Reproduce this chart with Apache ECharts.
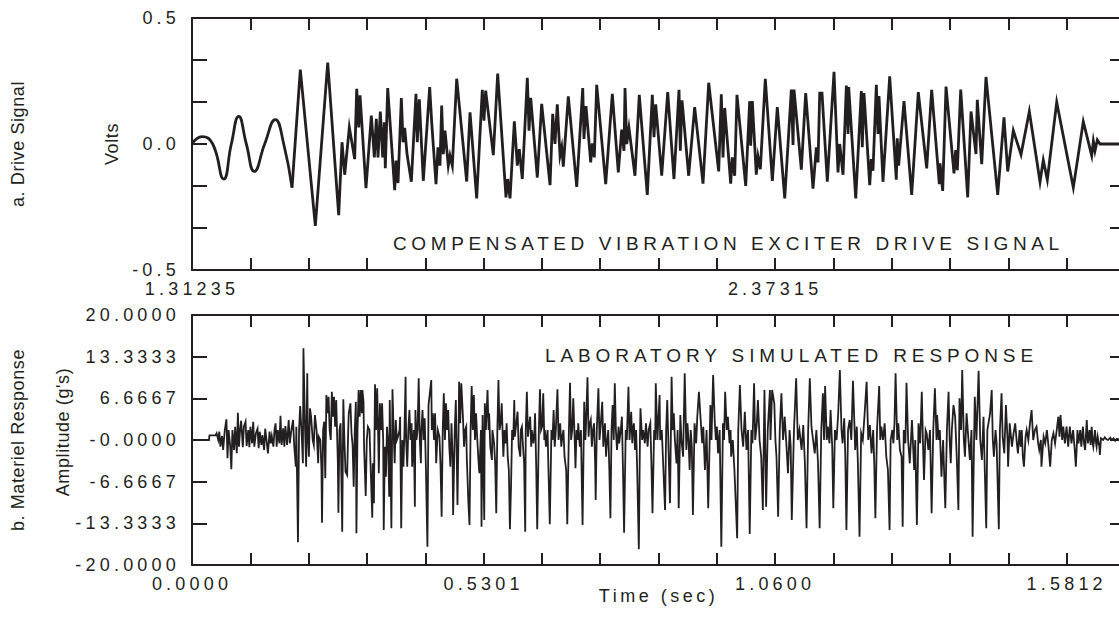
<!DOCTYPE html>
<html>
<head>
<meta charset="utf-8">
<title>Compensated drive signal and simulated response</title>
<script src="https://cdn.jsdelivr.net/npm/echarts@6.0.0/dist/echarts.min.js"></script>
<style>
  html, body { margin: 0; padding: 0; background: #fff; }
  #chart { width: 1119px; height: 619px; }
  #chart text { letter-spacing: 4.2px; }
</style>
</head>
<body>
<div id="chart"></div>
<script>
const ink = '#231f20'
const font = '"Liberation Sans", Arial, sans-serif'

// a. drive signal: time (s) and volts
const driveTime = [
  1.31235, 1.3307, 1.3503, 1.3704, 1.3844, 1.3979, 1.4119, 1.4265, 1.4455, 1.4650, 1.4804, 1.4956,
  1.5108, 1.5383, 1.5610, 1.5811, 1.5872, 1.5921, 1.6006, 1.6104, 1.6141, 1.6178, 1.6202, 1.6311,
  1.6409, 1.6464, 1.6500, 1.6531, 1.6574, 1.6617, 1.6647, 1.6665, 1.6709, 1.6837, 1.6861, 1.6898,
  1.6959, 1.6990, 1.7020, 1.7063, 1.7142, 1.7227, 1.7251, 1.7288, 1.7361, 1.7478, 1.7515, 1.7594,
  1.7630, 1.7667, 1.7698, 1.7727, 1.7759, 1.7819, 1.7850, 1.7893, 1.7973, 1.8156, 1.8217, 1.8339,
  1.8442, 1.8473, 1.8504, 1.8644, 1.8724, 1.8876, 1.8907, 1.8950, 1.9029, 1.9084, 1.9120, 1.9175,
  1.9267, 1.9298, 1.9329, 1.9450, 1.9530, 1.9683, 1.9732, 1.9774, 1.9816, 1.9866, 1.9897, 1.9926,
  2.0018, 2.0172, 2.0282, 2.0305, 2.0342, 2.0428, 2.0457, 2.0494, 2.0538, 2.0703, 2.0824, 2.0934,
  2.0996, 2.1038, 2.1057, 2.1088, 2.1129, 2.1239, 2.1318, 2.1465, 2.1557, 2.1588, 2.1619, 2.1729,
  2.1839, 2.1954, 2.2046, 2.2070, 2.2101, 2.2223, 2.2333, 2.2486, 2.2590, 2.2773, 2.2821, 2.2852,
  2.2883, 2.2993, 2.3022, 2.3066, 2.3108, 2.3268, 2.3341, 2.3359, 2.3389, 2.3462, 2.3493, 2.3536,
  2.3627, 2.3756, 2.3847, 2.3983, 2.4104, 2.4135, 2.4153, 2.4287, 2.4367, 2.4501, 2.4562, 2.4593,
  2.4624, 2.4666, 2.4763, 2.4886, 2.4959, 2.4990, 2.5051, 2.5112, 2.5143, 2.5155, 2.5284, 2.5386,
  2.5404, 2.5435, 2.5540, 2.5569, 2.5600, 2.5661, 2.5692, 2.5710, 2.5783, 2.5906, 2.6027, 2.6045,
  2.6070, 2.6168, 2.6309, 2.6430, 2.6584, 2.6675, 2.6815, 2.6828, 2.6877, 2.6938, 2.7084, 2.7115,
  2.7145, 2.7207, 2.7335, 2.7396, 2.7487, 2.7511, 2.7592, 2.7670, 2.7885, 2.8000, 2.8068, 2.8171,
  2.8312, 2.8464, 2.8660, 2.8720, 2.8794, 2.8966, 2.9270, 2.9453, 2.9607, 2.9637, 2.9667, 2.9710,
  2.9760, 3.0217
]
const driveVolts = [
  0, 0.029, 0, -0.139, 0, 0.110, 0, -0.109, 0, 0.097, 0, -0.173,
  0.295, -0.325, 0.323, -0.282, 0.007, -0.122, 0.066, -0.060, 0.219, 0.066, 0.193, -0.175,
  0.113, -0.053, 0.100, -0.053, 0.129, -0.053, 0.086, -0.096, 0.222, -0.183, -0.066, -0.155,
  0.182, 0.007, 0.064, -0.040, -0.150, 0.199, 0.007, 0.177, -0.146, 0.226, 0.086, -0.159,
  -0.013, -0.086, 0.153, -0.040, 0.053, -0.086, -0.046, -0.086, 0.259, -0.149, 0.126, -0.216,
  0.215, 0.093, 0.212, -0.044, 0.279, -0.212, -0.139, -0.216, 0.090, -0.086, -0.020, -0.139,
  0.263, 0.053, 0.183, -0.133, 0.159, -0.163, 0.120, 0.000, 0.157, -0.046, -0.013, -0.090,
  0.189, -0.170, 0.222, 0.020, 0.150, -0.073, 0.003, -0.053, 0.235, -0.159, 0.199, -0.113,
  0.057, -0.027, 0.222, 0.000, 0.064, -0.126, 0.195, -0.202, 0.195, 0.027, 0.157, -0.126,
  0.206, -0.139, 0.215, -0.027, 0.173, -0.126, 0.146, -0.157, 0.243, -0.109, 0.197, -0.053,
  0.143, -0.157, -0.053, -0.126, 0.195, -0.166, 0.170, -0.007, 0.170, -0.122, -0.050, -0.100,
  0.259, -0.146, 0.146, -0.216, 0.216, -0.004, 0.216, -0.102, 0.202, -0.177, -0.013, -0.073,
  0.202, 0.202, -0.149, 0.286, -0.113, 0.000, -0.122, 0.232, 0.040, 0.226, -0.216, 0.210,
  -0.013, 0.202, -0.163, -0.060, -0.106, 0.235, 0.040, 0.190, -0.150, 0.268, -0.142, 0.023,
  -0.086, 0.170, -0.202, 0.206, -0.097, 0.215, -0.159, -0.077, -0.186, 0.228, -0.117, -0.024,
  -0.104, 0.216, -0.212, 0.129, -0.040, 0.175, -0.080, 0.266, -0.202, 0.106, -0.109, 0.053,
  -0.042, 0.129, -0.150, -0.064, -0.142, 0.166, -0.173, 0.089, -0.046, 0.011, -0.027, 0.016,
  0.000, 0.000
]
const leadInEnd = 11 // last point of the smooth lead-in sweep

// b. materiel response: time (s) and g's
const respTime = [
  0, 0.031, 0.032, 0.043, 0.045, 0.048, 0.050, 0.052, 0.055, 0.057,
  0.060, 0.063, 0.065, 0.067, 0.070, 0.072, 0.074, 0.077, 0.079, 0.082,
  0.084, 0.086, 0.088, 0.090, 0.093, 0.095, 0.098, 0.100, 0.103, 0.105,
  0.107, 0.110, 0.112, 0.114, 0.117, 0.120, 0.122, 0.124, 0.127, 0.129,
  0.132, 0.134, 0.137, 0.139, 0.142, 0.144, 0.146, 0.149, 0.151, 0.153,
  0.155, 0.157, 0.160, 0.162, 0.164, 0.167, 0.169, 0.171, 0.174, 0.177,
  0.179, 0.182, 0.185, 0.187, 0.190, 0.191, 0.194, 0.196, 0.198, 0.201,
  0.203, 0.204, 0.207, 0.209, 0.211, 0.212, 0.214, 0.216, 0.218, 0.221,
  0.223, 0.225, 0.228, 0.231, 0.232, 0.235, 0.237, 0.238, 0.240, 0.242,
  0.244, 0.246, 0.248, 0.250, 0.252, 0.254, 0.256, 0.258, 0.260, 0.262,
  0.264, 0.267, 0.268, 0.270, 0.272, 0.275, 0.277, 0.279, 0.281, 0.284,
  0.286, 0.287, 0.290, 0.292, 0.294, 0.296, 0.298, 0.300, 0.301, 0.303,
  0.305, 0.307, 0.309, 0.311, 0.312, 0.314, 0.315, 0.318, 0.320, 0.322,
  0.325, 0.326, 0.330, 0.331, 0.333, 0.335, 0.337, 0.339, 0.341, 0.342,
  0.344, 0.346, 0.348, 0.350, 0.351, 0.353, 0.355, 0.357, 0.359, 0.361,
  0.362, 0.365, 0.367, 0.369, 0.371, 0.373, 0.375, 0.377, 0.380, 0.381,
  0.383, 0.385, 0.387, 0.389, 0.391, 0.392, 0.394, 0.396, 0.398, 0.400,
  0.402, 0.403, 0.406, 0.408, 0.409, 0.411, 0.413, 0.415, 0.417, 0.419,
  0.420, 0.422, 0.424, 0.426, 0.428, 0.431, 0.433, 0.438, 0.439, 0.441,
  0.443, 0.445, 0.447, 0.449, 0.450, 0.453, 0.455, 0.457, 0.459, 0.461,
  0.463, 0.465, 0.467, 0.469, 0.471, 0.473, 0.475, 0.477, 0.478, 0.481,
  0.483, 0.486, 0.488, 0.489, 0.491, 0.493, 0.496, 0.498, 0.500, 0.502,
  0.503, 0.506, 0.508, 0.510, 0.512, 0.514, 0.516, 0.518, 0.520, 0.522,
  0.524, 0.526, 0.529, 0.530, 0.532, 0.535, 0.536, 0.538, 0.541, 0.543,
  0.544, 0.546, 0.549, 0.550, 0.553, 0.555, 0.557, 0.559, 0.561, 0.563,
  0.565, 0.567, 0.569, 0.570, 0.572, 0.574, 0.576, 0.578, 0.580, 0.582,
  0.584, 0.586, 0.588, 0.590, 0.591, 0.593, 0.596, 0.598, 0.601, 0.602,
  0.604, 0.606, 0.608, 0.610, 0.611, 0.613, 0.615, 0.616, 0.619, 0.621,
  0.622, 0.625, 0.627, 0.628, 0.630, 0.632, 0.635, 0.637, 0.639, 0.641,
  0.643, 0.645, 0.646, 0.648, 0.651, 0.652, 0.655, 0.658, 0.660, 0.662,
  0.664, 0.666, 0.669, 0.671, 0.674, 0.676, 0.678, 0.680, 0.682, 0.685,
  0.687, 0.690, 0.692, 0.694, 0.696, 0.698, 0.701, 0.702, 0.704, 0.706,
  0.707, 0.710, 0.712, 0.713, 0.715, 0.718, 0.720, 0.721, 0.724, 0.726,
  0.727, 0.730, 0.732, 0.734, 0.736, 0.738, 0.739, 0.741, 0.744, 0.746,
  0.748, 0.751, 0.753, 0.755, 0.756, 0.758, 0.759, 0.762, 0.764, 0.766,
  0.768, 0.770, 0.772, 0.774, 0.776, 0.778, 0.781, 0.782, 0.785, 0.787,
  0.789, 0.791, 0.794, 0.796, 0.799, 0.801, 0.804, 0.806, 0.807, 0.809,
  0.811, 0.813, 0.815, 0.818, 0.820, 0.821, 0.824, 0.826, 0.829, 0.831,
  0.834, 0.836, 0.839, 0.841, 0.843, 0.846, 0.848, 0.849, 0.852, 0.856,
  0.857, 0.860, 0.862, 0.863, 0.866, 0.868, 0.870, 0.875, 0.878, 0.880,
  0.882, 0.884, 0.887, 0.889, 0.891, 0.894, 0.896, 0.899, 0.902, 0.905,
  0.907, 0.909, 0.911, 0.913, 0.915, 0.917, 0.920, 0.923, 0.925, 0.928,
  0.931, 0.934, 0.936, 0.939, 0.942, 0.945, 0.949, 0.951, 0.954, 0.957,
  0.959, 0.961, 0.963, 0.966, 0.969, 0.972, 0.974, 0.976, 0.979, 0.981,
  0.984, 0.986, 0.987, 0.990, 0.993, 0.998, 1.000, 1.003, 1.006, 1.009,
  1.012, 1.015, 1.018, 1.021, 1.024, 1.026, 1.029, 1.031, 1.034, 1.036,
  1.039, 1.042, 1.045, 1.048, 1.051, 1.054, 1.058, 1.059, 1.062, 1.066,
  1.068, 1.070, 1.073, 1.076, 1.079, 1.082, 1.085, 1.088, 1.091, 1.094,
  1.096, 1.098, 1.102, 1.106, 1.109, 1.112, 1.116, 1.119, 1.122, 1.125,
  1.128, 1.131, 1.134, 1.137, 1.140, 1.143, 1.146, 1.149, 1.152, 1.155,
  1.157, 1.159, 1.162, 1.164, 1.167, 1.169, 1.172, 1.174, 1.177, 1.180,
  1.183, 1.186, 1.189, 1.191, 1.194, 1.196, 1.198, 1.201, 1.204, 1.207,
  1.210, 1.213, 1.214, 1.217, 1.219, 1.222, 1.225, 1.228, 1.231, 1.235,
  1.238, 1.241, 1.244, 1.247, 1.249, 1.251, 1.254, 1.258, 1.260, 1.262,
  1.265, 1.268, 1.271, 1.274, 1.277, 1.279, 1.282, 1.284, 1.286, 1.288,
  1.291, 1.293, 1.296, 1.299, 1.301, 1.303, 1.306, 1.308, 1.311, 1.314,
  1.318, 1.322, 1.324, 1.327, 1.330, 1.333, 1.336, 1.338, 1.340, 1.343,
  1.345, 1.348, 1.351, 1.354, 1.357, 1.360, 1.363, 1.364, 1.367, 1.369,
  1.372, 1.375, 1.379, 1.382, 1.385, 1.387, 1.389, 1.391, 1.394, 1.397,
  1.400, 1.403, 1.405, 1.408, 1.410, 1.413, 1.415, 1.418, 1.421, 1.424,
  1.427, 1.429, 1.432, 1.433, 1.436, 1.440, 1.443, 1.446, 1.449, 1.451,
  1.454, 1.456, 1.461, 1.464, 1.466, 1.468, 1.471, 1.473, 1.477, 1.479,
  1.482, 1.484, 1.487, 1.490, 1.493, 1.494, 1.497, 1.501, 1.504, 1.507,
  1.510, 1.512, 1.515, 1.517, 1.519, 1.521, 1.523, 1.526, 1.528, 1.531,
  1.534, 1.537, 1.540, 1.543, 1.546, 1.549, 1.551, 1.554, 1.555, 1.559,
  1.562, 1.565, 1.568, 1.571, 1.574, 1.577, 1.580, 1.583, 1.586, 1.588,
  1.590, 1.593, 1.595, 1.598, 1.601, 1.604, 1.607, 1.610, 1.613, 1.616,
  1.618, 1.621, 1.623, 1.626, 1.628, 1.631, 1.633, 1.635, 1.637, 1.638,
  1.640, 1.643, 1.645, 1.647, 1.649, 1.650, 1.652, 1.653, 1.655, 1.656,
  1.658, 1.661, 1.662, 1.664, 1.668, 1.671, 1.674, 1.677, 1.681, 1.684,
  1.687, 1.690, 1.693, 1.697
]
const respAmp = [
  0, 0, 0.75, 0.75, 1.07, 0, 1.33, -1.07, 0.64, -1.6,
  1.6, 3.31, -2.93, 1.6, -1.07, -4.69, 1.6, -1.6, 2.13, -2.13,
  4.37, -1.07, 1.6, 3.09, -1.17, 2.13, 2.93, -0.96, 1.6, -1.17,
  2.13, -0.53, 2.93, -1.07, 1.07, 1.81, -1.33, 1.33, -0.8, 0.8,
  -1.6, 1.81, -0.53, -2.13, 1.33, -0.53, 0.64, -1.07, 1.6, 2.67,
  -1.07, 1.6, -0.53, 3.89, -0.8, 1.87, -1.07, 2.24, -0.8, 3.2,
  -0.53, 1.6, 3.2, -0.8, -4.27, 2.13, -16.37, 1.6, 5.44, 0.53,
  -3.73, 14.67, 1.6, -4.27, 10.67, 1.07, -2.67, 5.07, 3.73, 0,
  -0.8, 4.0, 1.6, -3.73, 0.53, 0, -4.8, -13.23, 1.6, 2.93,
  -6.13, 7.2, 4.27, 6.93, 1.6, 0, 7.73, 3.73, 6.93, 2.13,
  6.4, -3.73, -11.63, 1.6, 2.67, -14.67, 6.51, 0, -5.07, -5.6,
  1.6, 4.27, 5.87, 1.07, -0.8, -7.47, 1.6, 6.13, -14.93, 1.6,
  8.0, 3.73, 8.0, 4.27, 8.0, 6.13, -1.07, -8.96, 0, 2.13,
  1.6, -1.6, -12.43, -3.73, -10.13, 8.91, 1.6, 8.27, 0, -5.33,
  5.87, 1.6, 5.87, 0, -14.4, -1.07, -5.87, 2.13, -0.53, -9.07,
  6.4, -14.13, 8.11, 1.6, -3.73, 3.2, 0, 0.53, 1.6, 3.73,
  -14.13, 0, -4.27, 1.6, 10.13, 0, -4.27, 1.6, 4.8, 0,
  2.67, -4.27, 1.6, -10.67, 4.8, 0, 1.6, 9.87, 0, -3.73,
  1.6, 4.8, 0, 3.47, -3.73, -17.07, 5.6, 9.6, 1.6, 4.27,
  0, 4.27, -3.73, 0, 1.6, 0.53, -4.27, -12.27, 1.6, 7.47,
  0, 5.87, 1.6, 4.8, -1.07, -4.27, 2.67, -2.67, -12.0, 1.6,
  6.4, -10.4, 1.6, 9.33, 2.67, 9.07, 3.73, -1.07, 1.6, 2.13,
  -2.67, -10.13, -13.6, 1.6, 8.64, 1.6, 7.2, 0, 4.27, 0.53,
  -2.67, -5.33, 1.6, -13.87, 4.0, -12.8, 5.87, 1.6, 8.0, 1.6,
  4.27, -1.07, -3.2, 1.6, -0.53, -3.73, -11.73, 1.6, 9.6, 1.6,
  2.67, 5.87, 0, -2.67, 1.6, -0.53, 2.67, -2.67, -4.8, -14.29,
  -7.47, 1.6, 0, 6.4, 0.53, 2.13, 4.53, -1.07, -2.67, 1.6,
  2.13, -1.07, -3.73, -14.67, 1.6, 7.73, 0.53, 1.6, 3.73, -1.07,
  1.6, -0.53, 1.6, 4.27, -3.73, -14.29, 1.6, 8.11, 1.6, 2.13,
  7.47, 0, 1.6, -1.07, 1.6, -2.67, -13.49, 1.6, 0, 4.8,
  -1.07, 1.6, 8.11, 0, 2.67, -1.07, 0.53, 1.6, -2.67, -4.8,
  -13.49, 1.6, 9.17, 0, 1.6, 6.67, -1.07, -4.53, 1.6, 0,
  2.67, -1.07, 1.6, -3.73, -13.6, 6.13, 0, 1.6, 10.03, 0.53,
  2.13, 3.2, -1.07, 1.6, 2.67, -3.73, -9.6, 1.6, 8.27, 0,
  2.13, 6.13, -1.07, 1.6, 2.67, -2.67, -1.07, 1.6, -4.8, -12.53,
  1.6, 5.6, 0, 9.07, 1.6, -1.6, 2.13, -0.53, 1.6, 3.73,
  -4.8, -14.83, 1.6, 0, 8.53, 0, 4.53, -0.53, 1.6, 2.67,
  -1.6, 1.6, -4.8, -17.49, 0, 5.07, 0, 1.6, -0.53, 2.67,
  -1.07, 1.6, 2.67, -3.73, -11.73, 1.6, 0, 9.07, 0, 7.2,
  0, 1.6, -2.67, -4.8, -11.2, 1.6, 6.4, -10.13, 10.13, 1.6,
  4.27, 0, -3.73, 1.6, -10.93, 4.0, 0, -2.67, 10.67, -1.6,
  2.67, 0, -4.8, 1.6, -1.07, -12.0, 2.67, -0.53, 3.73, 7.73,
  3.47, -0.53, 2.13, -4.8, 1.6, -10.93, 5.6, 0, 10.4, 2.93,
  0, 2.13, -2.13, 1.6, -17.07, 2.67, 0, 7.73, 1.6, 3.73,
  -0.53, 1.6, -2.67, 0, -4.8, -15.73, 1.6, 8.8, 1.6, -1.07,
  4.53, -1.6, 1.6, -15.04, 1.6, -0.53, 9.07, 0, 2.67, 6.4,
  0, -2.67, -11.2, 8.0, -10.67, 1.6, 8.0, 0, 8.0, 5.87,
  0, -2.67, -12.27, 1.6, 7.47, 0, 3.73, -0.53, -5.33, 1.6,
  -1.07, -12.8, 1.6, 9.87, 0, 1.6, -1.6, 2.4, -3.73, -14.13,
  1.6, 9.87, 2.13, 0, -2.13, 1.6, -3.73, -14.13, 1.6, 7.47,
  0, 8.64, 0, 2.13, -0.53, 4.8, -1.07, -10.93, 1.6, 0,
  4.27, 11.2, 1.6, -0.53, 3.47, -2.67, -14.4, 1.6, 3.2, 0,
  9.49, 1.6, -1.6, 2.13, -3.73, -15.47, 1.07, 0, 3.73, 9.33,
  0, 2.4, -2.13, 1.6, -3.73, -12.53, 1.6, 8.64, 0, 2.13,
  0, 2.67, -2.67, -4.8, -14.4, 0, 1.6, -0.53, 2.67, 10.67,
  0, 2.67, -1.6, -2.67, -13.87, 1.6, -0.53, 9.17, 0, -3.73,
  3.2, -4.8, 0, -13.6, 2.67, -0.53, 7.73, 0, -6.4, 1.6,
  1.07, -1.6, 1.6, -11.73, 1.6, 8.27, 0, 4.0, 0, 1.6,
  -5.87, 0, -10.93, 1.6, 7.73, 0, -3.73, 1.6, 5.6, 3.73,
  -2.67, -11.2, 6.67, 1.6, 11.2, 0, -2.67, 4.27, 0.53, -3.2,
  1.6, -15.47, 1.6, 6.93, 0, 11.09, 0, -3.2, 3.73, -3.73,
  -14.13, 1.6, 4.27, 8.0, 0, -2.67, 1.6, -0.53, -14.29, 1.6,
  7.47, 0.53, -2.13, 5.6, 0, -4.27, 2.67, -1.07, 1.07, 2.67,
  -0.53, -2.13, 1.6, -1.07, 1.6, -2.67, -4.27, 0.53, 1.6, 0,
  2.67, 4.8, 0, 1.6, 2.13, -0.53, -1.6, 0, -4.27, 0.53,
  -0.53, 1.6, -1.07, -4.27, 0, 1.07, -0.53, 1.6, 3.73, 0.53,
  4.0, 0, 2.13, -0.53, 2.13, -1.07, 2.13, -0.53, 1.6, -1.6,
  -4.27, 1.6, -0.53, 1.6, -1.07, 2.13, -0.53, -1.6, 1.6, 3.2,
  -0.53, 1.6, -0.8, 2.13, -0.53, -1.07, 0.53, 1.6, -0.53, -1.07,
  0.53, -1.07, -2.4, 0.27, 0, 0.43, 0.11, 0, 0.37, 0,
  0.27, -0.11, 0.21, 0.11
]

// tick labels, one per tick
const driveTimeLabels = ['1.31235', '', '', '', '', '', '', '', '', '', '2.37315', '', '', '', '', '', '']
const respTimeLabels = ['0.0000', '', '', '', '', '0.5301', '', '', '', '', '1.0600', '', '', '', '', '1.5812', '']
const voltLabels = ['-0.5', '', '', '0.0', '', '', '0.5']
const ampLabels = ['-20.0000', '-13.3333', '-6.6667', '-0.0000', '6.6667', '13.3333', '20.0000']

const driveNote = 'COMPENSATED VIBRATION EXCITER DRIVE SIGNAL'
const respNote = 'LABORATORY SIMULATED RESPONSE'

const pairs = (xs, ys) => xs.map((x, i) => [x, ys[i]])
const drive = pairs(driveTime, driveVolts)
const resp = pairs(respTime, respAmp)

const nameStyle = { color: ink, fontFamily: font, fontSize: 18 }

// frame axis: ticks on every side, labels only where given
const frameAxis = (gridIndex, position, labels, showLabels) => {
  const vertical = position === 'left' || position === 'right'
  const half = (labels.length - 1) / 2
  return {
    type: 'value',
    gridIndex,
    position,
    min: vertical ? -half : 0,
    max: vertical ? half : labels.length - 1,
    interval: 1,
    axisLine: { show: true, onZero: false, lineStyle: { color: ink, width: 2 } },
    axisTick: { show: true, inside: true, length: vertical ? 15 : 12, lineStyle: { color: ink, width: 2 } },
    axisLabel: {
      show: showLabels,
      color: ink,
      fontFamily: font,
      fontSize: 18,
      margin: vertical ? 12 : 10,
      formatter: (v) => labels[Math.round(vertical ? v + half : v)] || '',
    },
    splitLine: { show: false },
    nameMoveOverlap: false,
  }
}

const dataXAxis = (gridIndex, min, max) => ({ type: 'value', gridIndex, min, max, show: false })
const dataYAxis = (gridIndex, min, max, name, nameGap) => ({
  type: 'value', gridIndex, min, max, position: 'left',
  axisLine: { show: false }, axisTick: { show: false }, axisLabel: { show: false }, splitLine: { show: false },
  name, nameLocation: 'middle', nameGap, nameTextStyle: nameStyle, nameMoveOverlap: false,
})

const lineStyle = (width) => ({ color: ink, width, join: 'miter', miterLimit: 8 })

const chart = echarts.init(document.getElementById('chart'), null, { renderer: 'svg' })

const option = {
  backgroundColor: '#fff',
  animation: false,
  grid: [
    { left: 192, top: 18, width: 933, height: 252, outerBoundsMode: 'none' },
    { left: 192, top: 315, width: 933, height: 250, outerBoundsMode: 'none' },
  ],
  xAxis: [
    frameAxis(0, 'bottom', driveTimeLabels, true),
    frameAxis(0, 'top', driveTimeLabels, false),
    dataXAxis(0, 1.31235, 3.0217),
    Object.assign(frameAxis(1, 'bottom', respTimeLabels, true), {
      name: 'Time (sec)', nameLocation: 'middle', nameGap: 22, nameTextStyle: nameStyle,
    }),
    frameAxis(1, 'top', respTimeLabels, false),
    dataXAxis(1, 0, 1.708),
  ],
  yAxis: [
    Object.assign(frameAxis(0, 'left', voltLabels, true), {
      name: 'Volts', nameLocation: 'middle', nameGap: 71, nameTextStyle: nameStyle,
    }),
    frameAxis(0, 'right', voltLabels, false),
    dataYAxis(0, -0.5, 0.5, 'a. Drive Signal', 165),
    Object.assign(frameAxis(1, 'left', ampLabels, true), {
      name: "Amplitude (g's)", nameLocation: 'middle', nameGap: 120,
      nameTextStyle: Object.assign({ padding: [0, 0, 0, 16] }, nameStyle),
    }),
    frameAxis(1, 'right', ampLabels, false),
    dataYAxis(1, -20, 20, 'b. Materiel Response', 165),
  ],
  graphic: [
    {
      type: 'text', x: 393, y: 243, silent: true,
      style: { text: driveNote, fill: ink, font: '19px ' + font, align: 'left', verticalAlign: 'middle', textAlign: 'left', textVerticalAlign: 'middle' },
    },
    {
      type: 'text', x: 545, y: 355, silent: true,
      style: { text: respNote, fill: ink, font: '19px ' + font, align: 'left', verticalAlign: 'middle', textAlign: 'left', textVerticalAlign: 'middle' },
    },
  ],
  series: [
    {
      name: 'lead-in', type: 'line', xAxisIndex: 2, yAxisIndex: 2,
      data: drive.slice(0, leadInEnd + 1), smooth: 0.5, showSymbol: false, silent: true,
      lineStyle: lineStyle(2.8),
    },
    {
      name: 'drive', type: 'line', xAxisIndex: 2, yAxisIndex: 2,
      data: drive.slice(leadInEnd), showSymbol: false, silent: true,
      lineStyle: lineStyle(2.8),
    },
    {
      name: 'response', type: 'line', xAxisIndex: 5, yAxisIndex: 5,
      data: resp, showSymbol: false, silent: true,
      lineStyle: lineStyle(1.8),
    },
  ],
}

// the original lettering is set wide; widen the svg text to match
const spacing = {
  [driveNote]: 4.6,
  [respNote]: 4.9,
  'Volts': 0.6,
  "Amplitude (g's)": 0.6,
  'a. Drive Signal': 0.6,
  'b. Materiel Response': 0.6,
  'Time (sec)': 3.5,
}
const spaceText = () => {
  document.querySelectorAll('#chart text').forEach((el) => {
    const s = spacing[el.textContent]
    if (s != null) el.style.letterSpacing = s + 'px'
  })
}

chart.setOption(option)
spaceText()
chart.on('finished', spaceText)
</script>
</body>
</html>
